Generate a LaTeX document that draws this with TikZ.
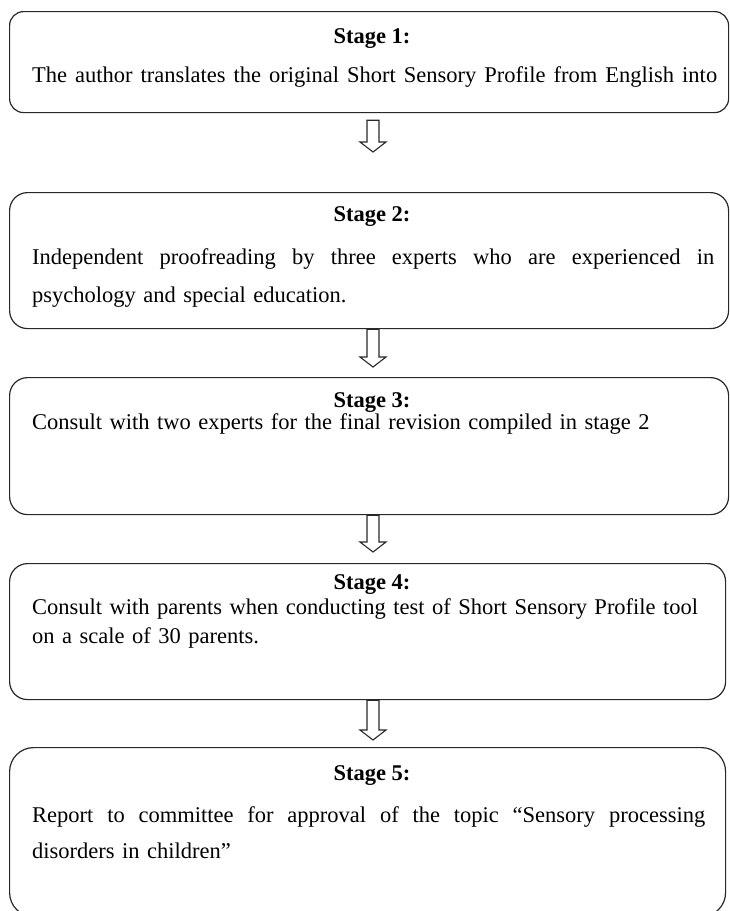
\documentclass[tikz,border=0pt]{standalone}
\usepackage{fontspec}
\setmainfont{Liberation Serif}
\usetikzlibrary{calc,positioning}
\definecolor{boxline}{RGB}{40,40,40}

% open block arrow from #1 (top of shaft) to #2 (tip)
\newcommand{\hollowarrow}[2]{%
  \draw[flowarrow] let \p1=(#1), \p2=(#2) in
    (\x1-6pt,\y1) -- (\x1-6pt,\y2+10pt) -- (\x1-13pt,\y2+10pt) -- (\x2,\y2)
    -- (\x1+13pt,\y2+10pt) -- (\x1+6pt,\y2+10pt) -- (\x1+6pt,\y1) -- cycle;}
% one justified line of given width
\newcommand{\fullline}[2]{\makebox[#1][s]{\spaceskip=0pt\xspaceskip=0pt\relax #2}}

\begin{document}
\begin{tikzpicture}[x=1pt, y=-1pt,
    stagebox/.style={draw=boxline, line width=1.2pt, rounded corners=18pt,
        anchor=north west, inner sep=0pt},
    stagetitle/.style={anchor=base, inner sep=0pt,
        font=\fontsize{22.5}{27}\selectfont\bfseries},
    stagetext/.style={anchor=base west, inner sep=0pt, align=left,
        font=\fontsize{22.5}{#1}\selectfont},
    stagetext/.default=38,
    flowarrow/.style={draw=boxline, line width=1.1pt, fill=white, line join=miter}]
    \useasboundingbox (0,0) rectangle (729,911);

    % Boxes
    \node[stagebox, minimum width=719pt, minimum height=101pt, rounded corners=14pt] (s1) at (9,11) {};
    \node[stagebox, minimum width=719pt, minimum height=136pt] (s2) at (9,192) {};
    \node[stagebox, minimum width=719pt, minimum height=137pt] (s3) at (9,377) {};
    \node[stagebox, minimum width=716pt, minimum height=136pt] (s4) at (9,563) {};
    \node[stagebox, minimum width=716pt, minimum height=169pt, rounded corners=24pt] (s5) at (9,747) {};

    % Stage 1
    \node[stagetitle] (t1) at ($(s1.north west)+(363,32)$) {Stage 1:};
    \node[stagetext, text width=685pt] (b1) at ($(s1.north west)+(23,71)$)
        {\fullline{685pt}{The author translates the original Short Sensory Profile from English into}};

    % Stage 2
    \node[stagetitle] (t2) at ($(s2.north west)+(363,29)$) {Stage 2:};
    \node[stagetext=38, text width=682pt] (b2) at ($(s2.north west)+(23,72)$)
        {\fullline{682pt}{Independent proofreading by three experts who are experienced in}\\
         psychology and special education.};

    % Stage 3
    \node[stagetitle] (t3) at ($(s3.north west)+(363,30)$) {Stage 3:};
    \node[stagetext, text width=682pt] (b3) at ($(s3.north west)+(23,52)$)
        {Consult with two experts for the final revision compiled in stage 2};

    % Stage 4
    \node[stagetitle] (t4) at ($(s4.north west)+(363,26)$) {Stage 4:};
    \node[stagetext=29, text width=666pt] (b4) at ($(s4.north west)+(23,51)$)
        {\fullline{666pt}{Consult with parents when conducting test of Short Sensory Profile tool}\\
         on a scale of 30 parents.};

    % Stage 5
    \node[stagetitle] (t5) at ($(s5.north west)+(363,33)$) {Stage 5:};
    \node[stagetext=36, text width=673pt] (b5) at ($(s5.north west)+(23,75)$)
        {\fullline{673pt}{Report to committee for approval of the topic “Sensory processing}\\
         disorders in children”};

    % Arrows
    \coordinate (mid) at (373,0);
    \coordinate (a1top) at ($(s1.south -| mid)+(0,7)$);
    \coordinate (a1tip) at ($(s2.north -| mid)+(0,-40)$);
    \coordinate (a2tip) at ($(s3.north -| mid)+(0,-10)$);
    \coordinate (a3tip) at ($(s4.north -| mid)+(0,-11)$);
    \coordinate (a4tip) at ($(s5.north -| mid)+(0,-7)$);
    \hollowarrow{a1top}{a1tip}
    \hollowarrow{s2.south -| mid}{a2tip}
    \hollowarrow{s3.south -| mid}{a3tip}
    \hollowarrow{s4.south -| mid}{a4tip}
\end{tikzpicture}
\end{document}
